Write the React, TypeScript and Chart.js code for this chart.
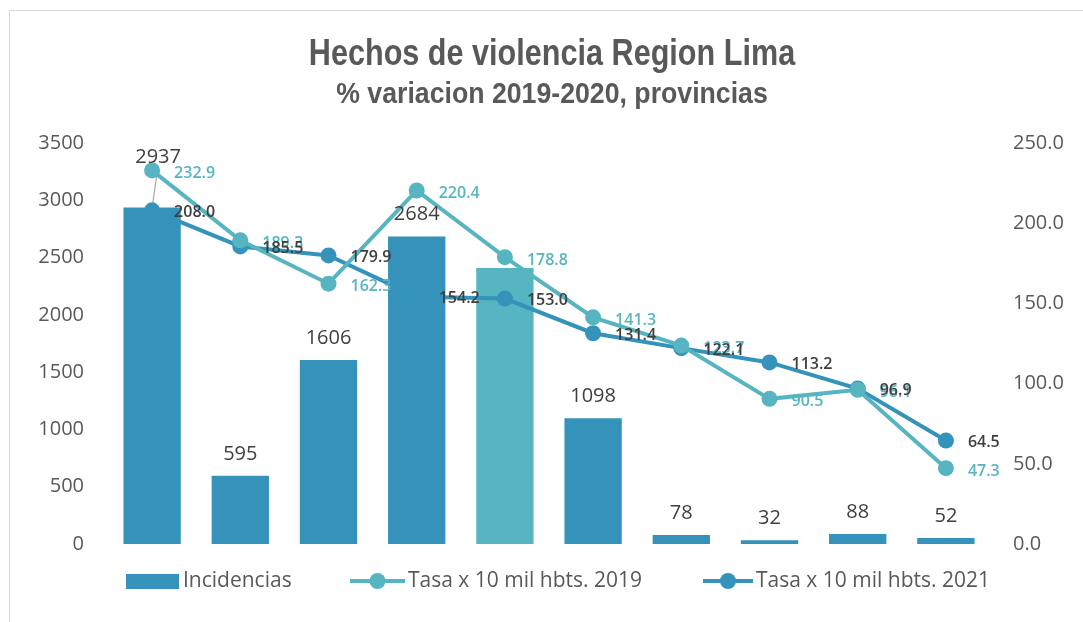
import React, { useEffect, useRef } from "react";
import { Chart, registerables } from "chart.js";

Chart.register(...registerables);

// ---------- data ----------
const categories = [
  "Provincia 1",
  "Provincia 2",
  "Provincia 3",
  "Provincia 4",
  "Provincia 5",
  "Provincia 6",
  "Provincia 7",
  "Provincia 8",
  "Provincia 9",
  "Provincia 10",
];
const incidencias = [2937, 595, 1606, 2684, 2410, 1098, 78, 32, 88, 52];
const highlightIndex = 4;
const tasa2019 = [232.9, 189.3, 162.3, 220.4, 178.8, 141.3, 123.7, 90.5, 96.1, 47.3];
const tasa2021 = [208.0, 185.5, 179.9, 154.2, 153.0, 131.4, 122.1, 113.2, 96.9, 64.5];
const leftTicks = [0, 500, 1000, 1500, 2000, 2500, 3000, 3500];
const rightTicks = [0, 50, 100, 150, 200, 250];

const titleText = "Hechos de violencia Region Lima";
const subtitleText = "% variacion 2019-2020, provincias";
const legendBars = "Incidencias";
const legend2019 = "Tasa x 10 mil hbts. 2019";
const legend2021 = "Tasa x 10 mil hbts. 2021";

// ---------- style ----------
const BAR = "#3593BB";
const LIGHT = "#56B5C0";
const TEXT = "#595959";
const LABEL = "#3F3F3F";
const BODY_FONT = "'Open Sans', 'Noto Sans', sans-serif";
const TITLE_FONT = "'Liberation Sans', Arial, sans-serif";

const mainBars = incidencias.map((v, i) => (i === highlightIndex ? null : v));
const highlightBars = incidencias.map((v, i) => (i === highlightIndex ? v : null));

const labelsPlugin = {
  id: "customLabels",
  beforeDatasetsDraw(chart: any) {
    const ctx = chart.ctx;
    const barMeta = chart.getDatasetMeta(0);
    const m19 = chart.getDatasetMeta(2);
    barMeta.data.forEach((bar: any, i: number) => {
      const v = mainBars[i];
      if (v == null) return;
      const p = m19.data[i];
      const ly = bar.y - 22;
      if (Math.abs(ly - p.y) < 20) {
        ctx.save();
        ctx.strokeStyle = "#A6A6A6";
        ctx.lineWidth = 1.2;
        ctx.beginPath();
        ctx.moveTo(bar.x + 6, p.y - 4);
        ctx.lineTo(bar.x, bar.y);
        ctx.stroke();
        ctx.restore();
      }
    });
  },
  afterDatasetsDraw(chart: any) {
    const ctx = chart.ctx;
    ctx.save();
    const barMeta = chart.getDatasetMeta(0);
    const m19 = chart.getDatasetMeta(2);
    const m21 = chart.getDatasetMeta(3);
    ctx.font = `400 20px ${BODY_FONT}`;
    ctx.fillStyle = LABEL;
    ctx.textAlign = "center";
    ctx.textBaseline = "middle";
    barMeta.data.forEach((bar: any, i: number) => {
      const v = mainBars[i];
      if (v == null) return;
      const p = m19.data[i];
      let ly = bar.y - 22;
      let lx = bar.x;
      if (Math.abs(ly - p.y) < 20) {
        ly = p.y - 13;
        lx = bar.x + 6;
      }
      ctx.fillText(String(v), lx, ly);
    });
    ctx.textAlign = "left";
    ctx.font = `600 16px ${BODY_FONT}`;
    ctx.fillStyle = LIGHT;
    m19.data.forEach((pt: any, i: number) => {
      ctx.fillText(tasa2019[i].toFixed(1), pt.x + 22, pt.y + 3);
    });
    ctx.fillStyle = LABEL;
    m21.data.forEach((pt: any, i: number) => {
      ctx.fillText(tasa2021[i].toFixed(1), pt.x + 22, pt.y + 2);
    });
    ctx.restore();
  },
  afterDraw(chart: any) {
    const ctx = chart.ctx;
    ctx.save();
    // titles (condensed look via horizontal scaling)
    const cx = (chart.chartArea.left + chart.chartArea.right) / 2 + 3;
    ctx.fillStyle = TEXT;
    ctx.textAlign = "center";
    ctx.textBaseline = "middle";
    ctx.save();
    ctx.translate(cx, 55);
    ctx.scale(0.85, 1);
    ctx.font = `bold 36px ${TITLE_FONT}`;
    ctx.fillText(titleText, 0, 0);
    ctx.restore();
    ctx.save();
    ctx.translate(cx, 95);
    ctx.scale(0.92, 1);
    ctx.font = `bold 29px ${TITLE_FONT}`;
    ctx.fillText(subtitleText, 0, 0);
    ctx.restore();

    // legend
    const y = 581;
    ctx.font = `400 21px ${BODY_FONT}`;
    ctx.textAlign = "left";
    ctx.fillStyle = BAR;
    ctx.fillRect(126, 574, 53, 15);
    ctx.fillStyle = TEXT;
    ctx.fillText(legendBars, 183, y);
    const lineItem = (x0: number, x1: number, color: string, text: string) => {
      ctx.strokeStyle = color;
      ctx.lineWidth = 4;
      ctx.beginPath();
      ctx.moveTo(x0, y);
      ctx.lineTo(x1, y);
      ctx.stroke();
      ctx.fillStyle = color;
      ctx.beginPath();
      ctx.arc((x0 + x1) / 2, y, 8, 0, Math.PI * 2);
      ctx.fill();
      ctx.fillStyle = TEXT;
      ctx.fillText(text, x1 + 3, y);
    };
    lineItem(350, 405, LIGHT, legend2019);
    lineItem(703, 753, BAR, legend2021);
    ctx.restore();
  },
};

export default function App() {
  const ref = useRef<HTMLCanvasElement>(null);
  useEffect(() => {
    const chart = new Chart(ref.current as HTMLCanvasElement, {
      type: "bar",
      data: {
        labels: categories,
        datasets: [
          {
            type: "bar",
            label: legendBars,
            data: mainBars,
            backgroundColor: BAR,
            grouped: false,
            barPercentage: 0.65,
            categoryPercentage: 1,
            yAxisID: "y",
            order: 1,
          } as any,
          {
            type: "bar",
            label: legendBars + " (destacada)",
            data: highlightBars,
            backgroundColor: LIGHT,
            grouped: false,
            barPercentage: 0.65,
            categoryPercentage: 1,
            yAxisID: "y",
            order: 3,
          } as any,
          {
            type: "line",
            label: legend2019,
            data: tasa2019,
            borderColor: LIGHT,
            backgroundColor: LIGHT,
            borderWidth: 4,
            pointRadius: 8,
            pointBorderWidth: 0,
            pointBackgroundColor: LIGHT,
            yAxisID: "y1",
            order: 0,
          } as any,
          {
            type: "line",
            label: legend2021,
            data: tasa2021,
            borderColor: BAR,
            backgroundColor: BAR,
            borderWidth: 4,
            pointRadius: 8,
            pointBorderWidth: 0,
            pointBackgroundColor: BAR,
            yAxisID: "y1",
            order: 2,
          } as any,
        ],
      },
      options: {
        responsive: false,
        animation: false,
        layout: { padding: { top: 143, left: 0, right: 0, bottom: 78 } },
        plugins: {
          legend: { display: false },
          tooltip: { enabled: false },
          title: { display: false },
        },
        scales: {
          x: {
            type: "category",
            offset: true,
            display: false,
            grid: { display: false },
          },
          y: {
            position: "left",
            min: 0,
            max: 3500,
            afterBuildTicks(s: any) {
              s.ticks = leftTicks.map((v) => ({ value: v }));
            },
            ticks: {
              color: TEXT,
              padding: 24,
              font: { family: BODY_FONT, size: 20 },
              callback: (v: any) => String(v),
            },
            grid: { display: false, drawTicks: false },
            border: { display: false },
            afterFit(s: any) {
              s.width = 108;
            },
          },
          y1: {
            position: "right",
            min: 0,
            max: 250,
            afterBuildTicks(s: any) {
              s.ticks = rightTicks.map((v) => ({ value: v }));
            },
            ticks: {
              color: TEXT,
              padding: 23,
              font: { family: BODY_FONT, size: 20 },
              callback: (v: any) => Number(v).toFixed(1),
            },
            grid: { display: false, drawTicks: false },
            border: { display: false },
            afterFit(s: any) {
              s.width = 93;
            },
          },
        },
      } as any,
      plugins: [labelsPlugin],
    });
    return () => chart.destroy();
  }, []);

  return (
    <div
      style={{
        position: "fixed",
        left: 0,
        top: 0,
        width: 1083,
        height: 622,
        background: "#fff",
        overflow: "hidden",
      }}
    >
      <div
        style={{
          position: "absolute",
          left: 9,
          top: 10,
          width: 1200,
          height: 700,
          borderLeft: "1px solid #D9D9D9",
          borderTop: "1px solid #D9D9D9",
        }}
      />
      <canvas
        ref={ref}
        width={1083}
        height={622}
        style={{ position: "absolute", left: 0, top: 0, width: 1083, height: 622 }}
      />
    </div>
  );
}
